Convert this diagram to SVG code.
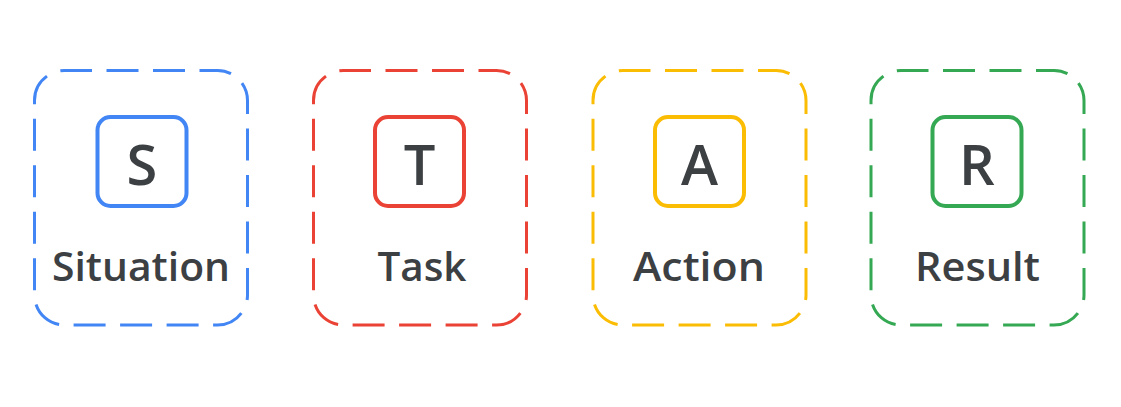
<svg xmlns="http://www.w3.org/2000/svg" width="1121" height="407" viewBox="0 0 1121 407">
  <style>
    .frame { fill: none; stroke-width: 3; stroke-dasharray: 32 14.5; stroke-dashoffset: 4.5; }
    .badge { fill: #ffffff; stroke-width: 4; }
    .letter { font-family: "Open Sans", Roboto, "Liberation Sans", sans-serif; font-weight: 600; font-size: 56px; fill: #3c4043; text-anchor: middle; }
    .label { font-family: "Open Sans", Roboto, "Liberation Sans", sans-serif; font-weight: 600; font-size: 39px; fill: #3c4043; text-anchor: middle; }
    .blue { stroke: #4285f4; }
    .red { stroke: #ea4335; }
    .yellow { stroke: #fbbc04; }
    .green { stroke: #34a853; }
  </style>
  <rect width="1121" height="407" fill="#ffffff"/>

  <!-- S : Situation -->
  <g id="situation">
    <rect class="frame blue" x="34.5" y="70.5" width="213" height="254.5" rx="30"/>
    <rect class="badge blue" x="97.5" y="117" width="89" height="89" rx="13"/>
    <text class="letter" x="142" y="184.5">S</text>
    <text class="label" x="141" y="281" textLength="178" lengthAdjust="spacingAndGlyphs">Situation</text>
  </g>

  <!-- T : Task -->
  <g id="task">
    <rect class="frame red" x="313.5" y="70.5" width="213" height="254.5" rx="30"/>
    <rect class="badge red" x="375" y="117" width="89" height="89" rx="13"/>
    <text class="letter" x="419.5" y="184.5">T</text>
    <text class="label" x="422" y="281" textLength="89" lengthAdjust="spacingAndGlyphs">Task</text>
  </g>

  <!-- A : Action -->
  <g id="action">
    <rect class="frame yellow" x="593" y="70.5" width="213" height="254.5" rx="30"/>
    <rect class="badge yellow" x="655" y="117" width="89" height="89" rx="13"/>
    <text class="letter" x="699.5" y="184.5">A</text>
    <text class="label" x="699" y="281" textLength="132" lengthAdjust="spacingAndGlyphs">Action</text>
  </g>

  <!-- R : Result -->
  <g id="result">
    <rect class="frame green" x="871" y="70.5" width="213" height="254.5" rx="30"/>
    <rect class="badge green" x="932.5" y="117" width="89" height="89" rx="13"/>
    <text class="letter" x="977" y="184.5">R</text>
    <text class="label" x="977.5" y="281" textLength="125" lengthAdjust="spacingAndGlyphs">Result</text>
  </g>
</svg>
